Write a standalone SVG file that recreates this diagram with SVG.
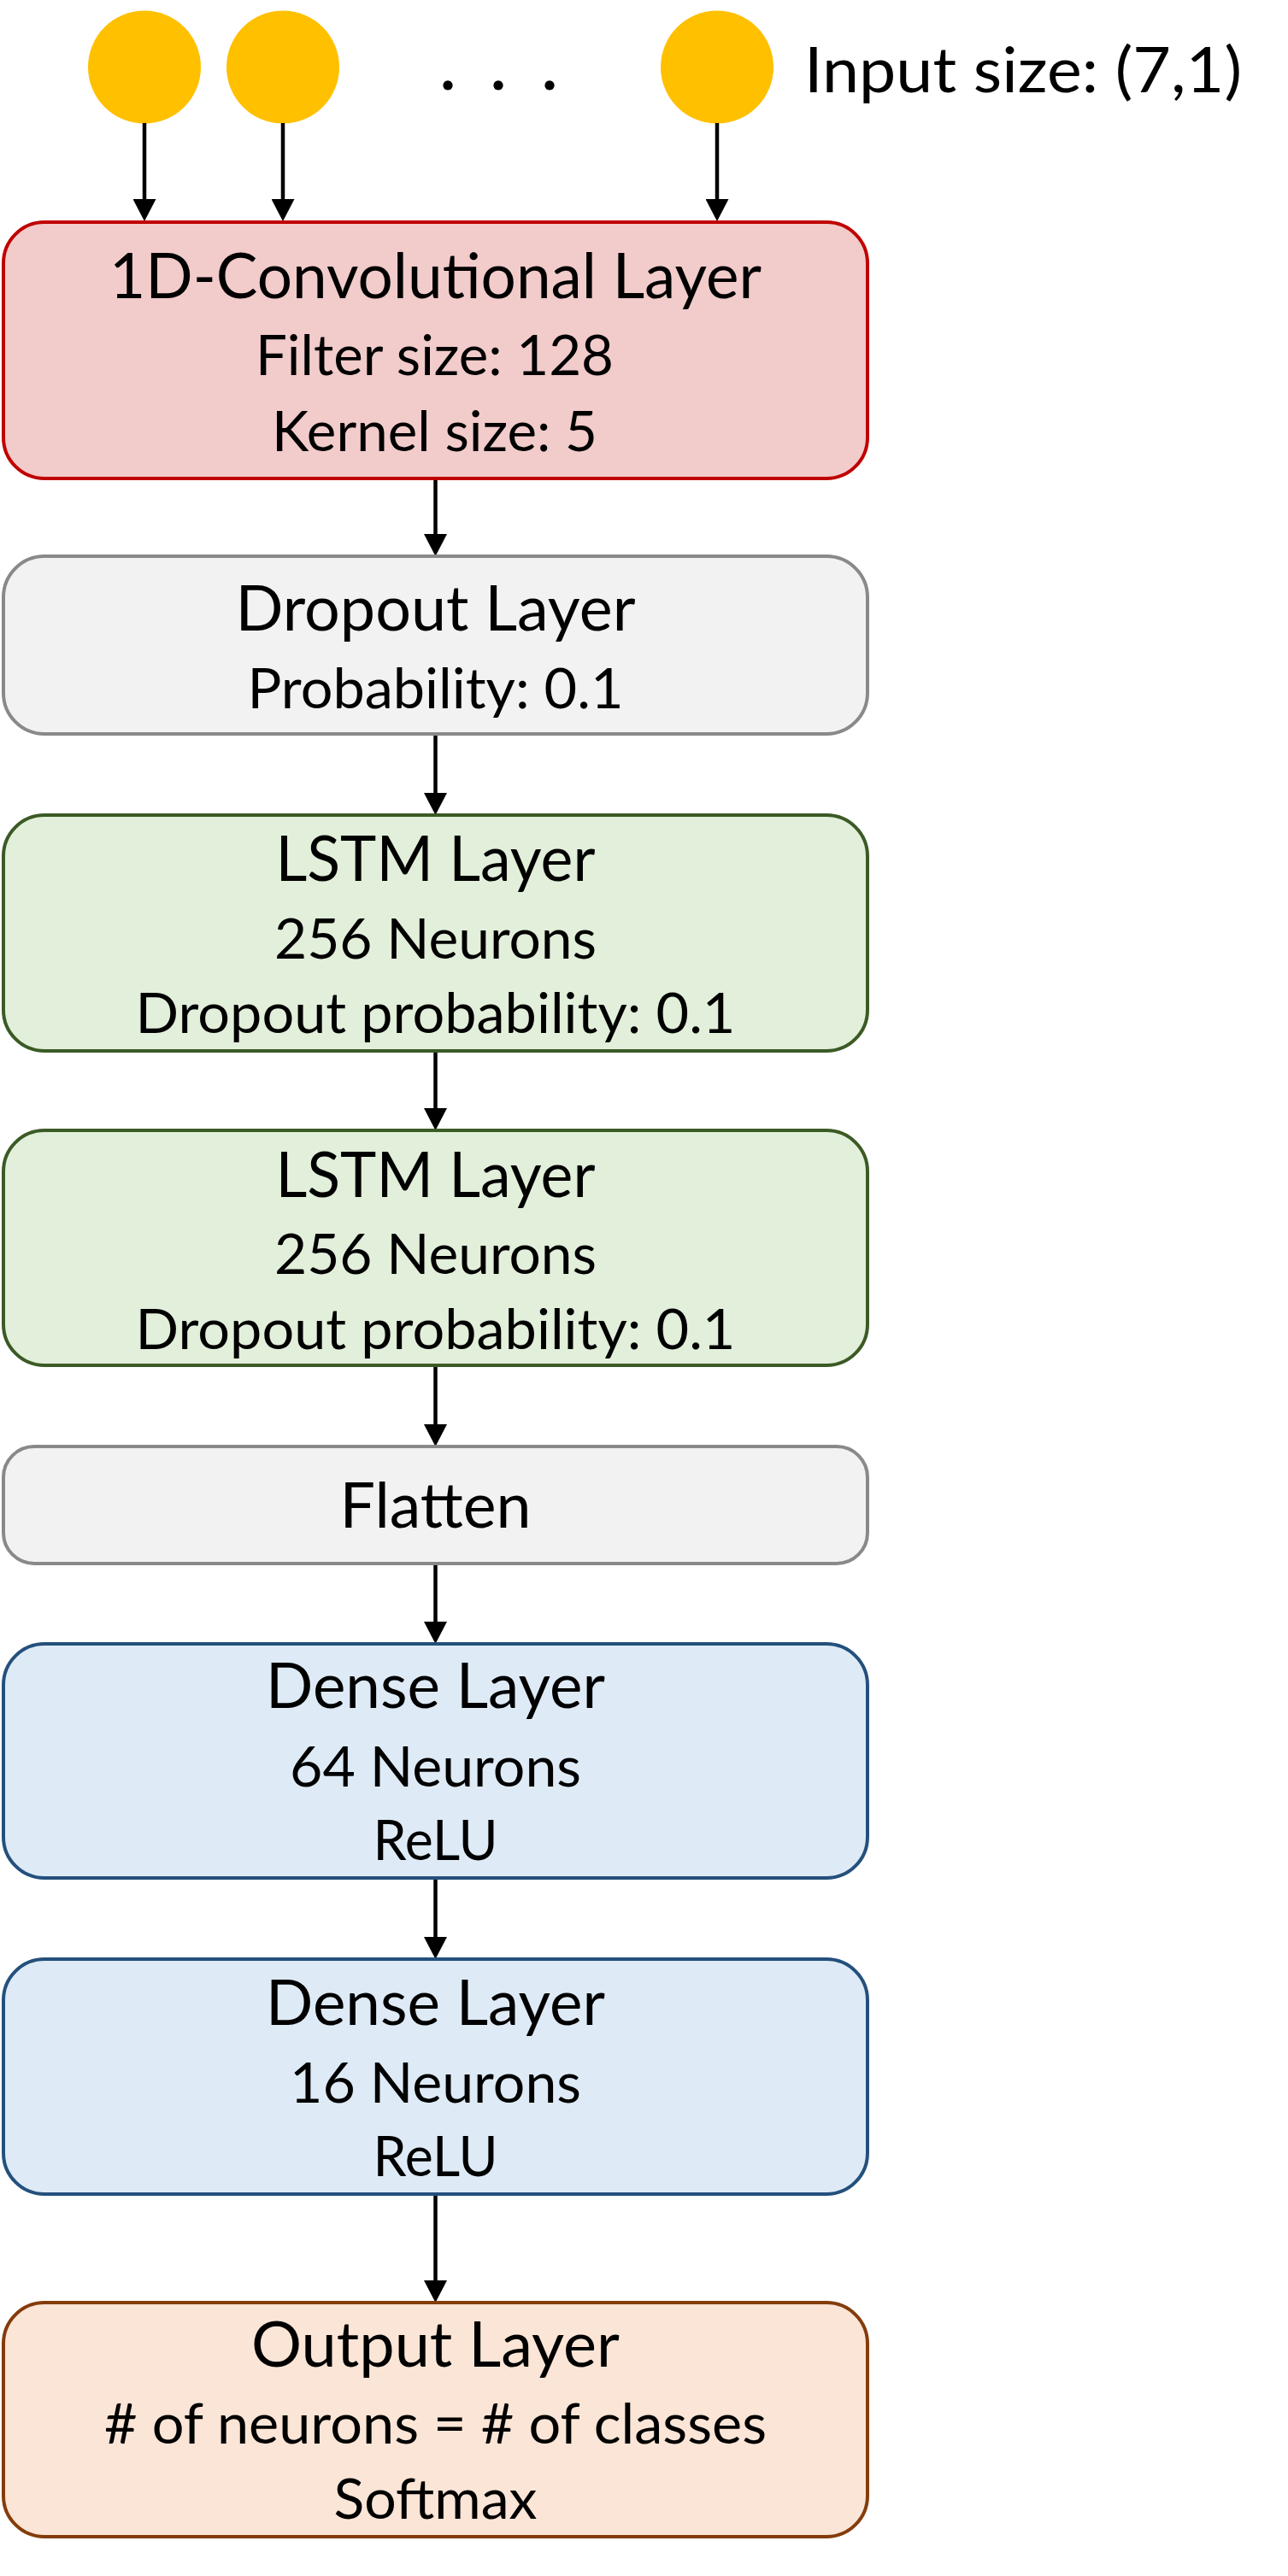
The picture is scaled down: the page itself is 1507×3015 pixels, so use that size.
<svg xmlns="http://www.w3.org/2000/svg" width="1507" height="3015" viewBox="0 0 1507 3015">
<style>
.t{font-family:Lato,"Liberation Sans",sans-serif;fill:#000;text-anchor:middle;font-size:74px}
.s{font-size:66px}
.box{stroke-width:4}
.conn line{stroke:#000;stroke-width:4.5;fill:none;marker-end:url(#ah)}
.in{fill:#FFC000}
</style>
<defs>
<marker id="ah" markerUnits="userSpaceOnUse" markerWidth="27" markerHeight="27" viewBox="0 0 26 27" refX="0" refY="13.5" orient="auto">
<path d="M0,0 L26,13.5 L0,27 Z" fill="#000"/>
</marker>
</defs>
<rect width="1507" height="3015" fill="#fff"/>

<g id="inputs">
<circle class="in" cx="169" cy="78.5" r="66"/>
<circle class="in" cx="331" cy="78.5" r="66"/>
<circle class="in" cx="839" cy="78.5" r="66"/>
<text class="t" x="524 583 643" y="105" font-size="120" font-weight="bold">...</text>
<text class="t" x="941" y="108" style="text-anchor:start" textLength="512" lengthAdjust="spacingAndGlyphs">Input size: (7,1)</text>
</g>

<g class="conn" id="connectors">
<line x1="169" y1="144" x2="169" y2="233"/>
<line x1="331" y1="144" x2="331" y2="233"/>
<line x1="839" y1="144" x2="839" y2="233"/>
<line x1="509.5" y1="560" x2="509.5" y2="625"/>
<line x1="509.5" y1="859" x2="509.5" y2="928"/>
<line x1="509.5" y1="1230" x2="509.5" y2="1297"/>
<line x1="509.5" y1="1598" x2="509.5" y2="1667"/>
<line x1="509.5" y1="1830" x2="509.5" y2="1898"/>
<line x1="509.5" y1="2198" x2="509.5" y2="2267"/>
<line x1="509.5" y1="2568" x2="509.5" y2="2669"/>
</g>

<g id="conv">
<rect class="box" x="4" y="260" width="1011" height="300" rx="48" fill="#F2CBCB" stroke="#C00000"/>
<text class="t" x="509.5" y="349" textLength="763" lengthAdjust="spacingAndGlyphs">1D-Convolutional Layer</text>
<text class="t s" x="508.5" y="439" textLength="419" lengthAdjust="spacingAndGlyphs">Filter size: 128</text>
<text class="t s" x="508.5" y="528" textLength="381" lengthAdjust="spacingAndGlyphs">Kernel size: 5</text>
</g>

<g id="dropout">
<rect class="box" x="4" y="651" width="1011" height="208" rx="48" fill="#F2F2F2" stroke="#898989"/>
<text class="t" x="509.5" y="737.5" textLength="468" lengthAdjust="spacingAndGlyphs">Dropout Layer</text>
<text class="t s" x="509.5" y="829" textLength="440" lengthAdjust="spacingAndGlyphs">Probability: 0.1</text>
</g>

<g id="lstm1">
<rect class="box" x="4" y="954" width="1011" height="276" rx="48" fill="#E2EFDA" stroke="#3B5A25"/>
<text class="t" x="509.5" y="1031" textLength="374" lengthAdjust="spacingAndGlyphs">LSTM Layer</text>
<text class="t s" x="509.5" y="1122" textLength="377" lengthAdjust="spacingAndGlyphs">256 Neurons</text>
<text class="t s" x="509.5" y="1209" textLength="702" lengthAdjust="spacingAndGlyphs">Dropout probability: 0.1</text>
</g>

<g id="lstm2">
<rect class="box" x="4" y="1323" width="1011" height="275" rx="48" fill="#E2EFDA" stroke="#3B5A25"/>
<text class="t" x="509.5" y="1401" textLength="374" lengthAdjust="spacingAndGlyphs">LSTM Layer</text>
<text class="t s" x="509.5" y="1491" textLength="377" lengthAdjust="spacingAndGlyphs">256 Neurons</text>
<text class="t s" x="509.5" y="1579" textLength="702" lengthAdjust="spacingAndGlyphs">Dropout probability: 0.1</text>
</g>

<g id="flatten">
<rect class="box" x="4" y="1693" width="1011" height="137" rx="36" fill="#F2F2F2" stroke="#898989"/>
<text class="t" x="509.5" y="1787.5" textLength="224" lengthAdjust="spacingAndGlyphs">Flatten</text>
</g>

<g id="dense1">
<rect class="box" x="4" y="1924" width="1011" height="274" rx="48" fill="#DEEBF7" stroke="#24507C"/>
<text class="t" x="509.5" y="1999" textLength="397" lengthAdjust="spacingAndGlyphs">Dense Layer</text>
<text class="t s" x="509.5" y="2091" textLength="341" lengthAdjust="spacingAndGlyphs">64 Neurons</text>
<text class="t s" x="509.5" y="2177" textLength="146" lengthAdjust="spacingAndGlyphs">ReLU</text>
</g>

<g id="dense2">
<rect class="box" x="4" y="2293" width="1011" height="275" rx="48" fill="#DEEBF7" stroke="#24507C"/>
<text class="t" x="509.5" y="2370" textLength="397" lengthAdjust="spacingAndGlyphs">Dense Layer</text>
<text class="t s" x="509.5" y="2461" textLength="341" lengthAdjust="spacingAndGlyphs">16 Neurons</text>
<text class="t s" x="509.5" y="2547" textLength="146" lengthAdjust="spacingAndGlyphs">ReLU</text>
</g>

<g id="output">
<rect class="box" x="4" y="2695" width="1011" height="274" rx="48" fill="#FBE5D6" stroke="#843C0C"/>
<text class="t" x="509.5" y="2770" textLength="431" lengthAdjust="spacingAndGlyphs">Output Layer</text>
<text class="t s" x="509.5" y="2860" textLength="775" lengthAdjust="spacingAndGlyphs"># of neurons = # of classes</text>
<text class="t s" x="509.5" y="2948" textLength="238" lengthAdjust="spacingAndGlyphs">Softmax</text>
</g>
</svg>
